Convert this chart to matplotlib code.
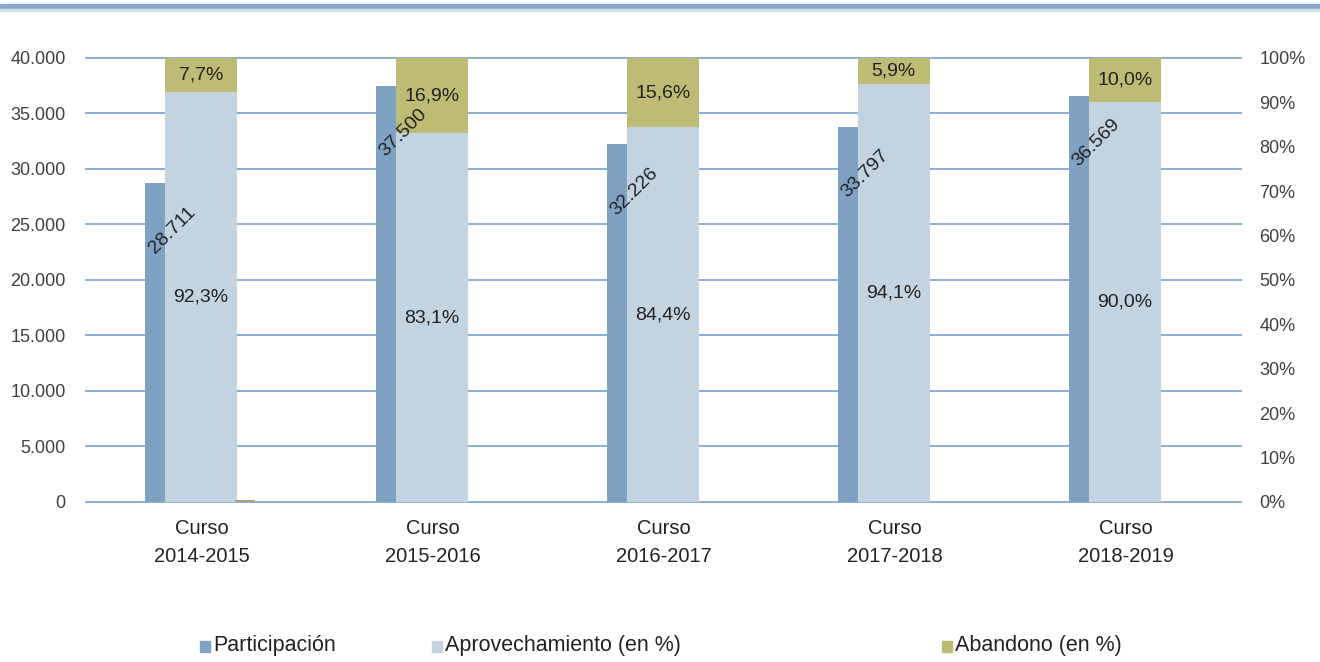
import numpy as np
import matplotlib
matplotlib.use("Agg")
import matplotlib.pyplot as plt
from matplotlib.patches import Rectangle
from matplotlib.ticker import FuncFormatter

# data
cursos = ["Curso\n2014-2015", "Curso\n2015-2016", "Curso\n2016-2017",
          "Curso\n2017-2018", "Curso\n2018-2019"]
participacion = [28711, 37500, 32226, 33797, 36569]
aprovechamiento = [92.3, 83.1, 84.4, 94.1, 90.0]
abandono = [7.7, 16.9, 15.6, 5.9, 10.0]
residuo = [0.5, 0, 0, 0, 0]   # tiny brown stub next to the first group
legend_labels = ["Participación", "Aprovechamiento (en %)", "Abandono (en %)"]

c_part = "#7FA2C3"
c_apro = "#C3D3E0"
c_aban = "#BEBB74"
c_res = "#B39A7E"
c_grid = "#8AAFD3"
c_text = "#404040"

plt.rcParams["font.family"] = ["Liberation Sans", "DejaVu Sans"]

def miles(v, pos):
    return f"{int(v):,}".replace(",", ".")

def pct(v):
    return f"{v:.1f}%".replace(".", ",")

fig = plt.figure(figsize=(13.2, 6.62), dpi=100)
ax = fig.add_axes([0.0655, 0.2417, 0.875, 0.6707])
ax2 = ax.twinx()

x = np.arange(len(cursos))

# left axis: participation
ax.bar(x - 0.2035, participacion, width=0.087, color=c_part, zorder=3)
ax.set_ylim(0, 40000)
ax.set_yticks(np.arange(0, 40001, 5000))
ax.yaxis.set_major_formatter(FuncFormatter(miles))
ax.grid(axis="y", color=c_grid, lw=1.4, zorder=0)
ax.set_axisbelow(True)
ax.set_xlim(-0.5, len(cursos) - 0.5)
ax.set_xticks(x)
ax.set_xticklabels(cursos, fontsize=14.5, color="#222222", linespacing=1.6)
ax.tick_params(axis="x", length=0, pad=12)
ax.tick_params(axis="y", length=0, pad=15, labelsize=13, labelcolor=c_text)
for gl in ax.get_ygridlines():
    gl.set_clip_on(False)

# right axis: stacked percentages
ax2.bar(x - 0.005, aprovechamiento, width=0.312, color=c_apro, zorder=2)
ax2.bar(x - 0.005, abandono, width=0.312, bottom=aprovechamiento,
        color=c_aban, zorder=2)
ax2.bar(x + 0.186, residuo, width=0.087, color=c_res, zorder=2)
for xi, a, b in zip(x, aprovechamiento, abandono):
    ax2.text(xi - 0.005, a / 2, pct(a), ha="center", va="center",
             fontsize=14, color="#222222")
    ax2.text(xi - 0.005, a + b / 2, pct(b), ha="center", va="center",
             fontsize=14, color="#222222")
ax2.set_ylim(0, 100)
ax2.set_yticks(np.arange(0, 101, 10))
ax2.set_yticklabels([f"{v}%" for v in range(0, 101, 10)])
ax2.tick_params(axis="y", length=0, pad=13, labelsize=13, labelcolor=c_text)

for a in (ax, ax2):
    for s in a.spines.values():
        s.set_visible(False)

# participation labels, drawn on the top axes so they sit over the stacked bars
for xi, v in zip(x, participacion):
    ax2.text(xi - 0.2035 + 0.074, (v - 4234) / 400, miles(v, None), rotation=45,
             ha="center", va="center", fontsize=14, color="#222222", zorder=5)

# top band
fig.patches.append(Rectangle((0, 1 - 9 / 662), 1, 5 / 662, transform=fig.transFigure,
                             color="#87A8C8", zorder=0))
fig.patches.append(Rectangle((0, 1 - 11 / 662), 1, 2 / 662, transform=fig.transFigure,
                             color="#D3E0EC", zorder=0))

# legend
items = [(200, legend_labels[0], c_part), (432, legend_labels[1], c_apro),
         (942, legend_labels[2], c_aban)]
for px, lab, col in items:
    fig.patches.append(Rectangle((px / 1320, 1 - 652 / 662), 10 / 1320, 11 / 662,
                                 transform=fig.transFigure, color=col))
    fig.text((px + 13) / 1320, 1 - 646 / 662, lab, fontsize=15.5, color="#222222",
             va="center", ha="left")

fig.savefig("out.png", dpi=100)
